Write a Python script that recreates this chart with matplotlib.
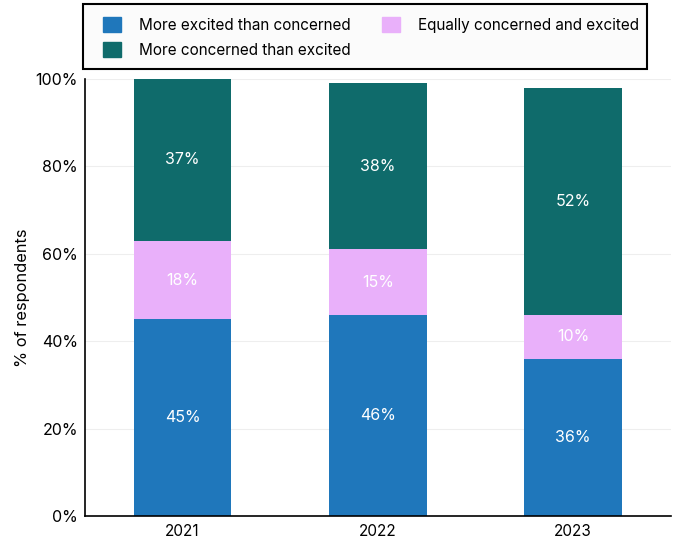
import matplotlib.pyplot as plt
import numpy as np
from matplotlib.patches import Patch, Rectangle
from matplotlib.ticker import PercentFormatter

years = ["2021", "2022", "2023"]
more_excited = [45, 46, 36]
equally = [18, 15, 10]
more_concerned = [37, 38, 52]

labels = ["More excited than concerned", "Equally concerned and excited", "More concerned than excited"]
colors = ["#1f77bb", "#e9b0fa", "#0f6b6b"]

plt.rcParams['font.family'] = ['Inter', 'DejaVu Sans']
fs = 11

fig = plt.figure(figsize=(6.73, 5.43), dpi=100)
ax = fig.add_axes([0.1263, 0.0497, 0.870, 0.8048])

x = np.arange(len(years))
bottom = np.zeros(len(years))
for vals, col in zip([more_excited, equally, more_concerned], colors):
    vals = np.array(vals)
    bars = ax.bar(x, vals, bottom=bottom, width=0.5, color=col, zorder=2)
    for b, v, b0 in zip(bars, vals, bottom):
        ax.text(b.get_x() + b.get_width() / 2, b0 + v / 2, f"{v}%", ha="center", va="center",
                color="white", fontsize=11.5)
    bottom += vals

ax.set_xlim(-0.5, 2.5)
ax.set_ylim(0, 100)
ax.set_xticks(x)
ax.set_xticklabels(years)
ax.set_yticks(range(0, 101, 20))
ax.yaxis.set_major_formatter(PercentFormatter(decimals=0))
ax.tick_params(axis="y", labelsize=11.5, length=0, pad=5)
ax.tick_params(axis="x", labelsize=fs, length=0, pad=6)
ax.grid(axis="y", color="#eeeeee", linewidth=0.8, zorder=0)
ax.set_ylabel("% of respondents", fontsize=11.8, labelpad=4)
for s in ["top", "right"]:
    ax.spines[s].set_visible(False)
ax.spines["left"].set_linewidth(1.2)
ax.spines["bottom"].set_linewidth(1.2)

# legend frame drawn separately so the padding can differ per side
fig.patches.append(Rectangle((83 / 673, 1 - 69 / 543), 564 / 673, 65 / 543, transform=fig.transFigure,
                             facecolor="#fbfbfb", edgecolor="black", linewidth=1.5, zorder=0))

handles = [Patch(color=colors[0]), Patch(color=colors[2]), Patch(color=colors[1])]
hlabels = [labels[0], labels[2], labels[1]]
leg = fig.legend(handles, hlabels, loc="upper left", bbox_to_anchor=(103 / 673, 1 - 17 / 543),
                 ncol=2, fontsize=fs, frameon=False, borderpad=0, borderaxespad=0,
                 handlelength=1.18, handleheight=1.1, handletextpad=1.18,
                 labelspacing=0.62, columnspacing=2.05)

fig.savefig("out.png")
